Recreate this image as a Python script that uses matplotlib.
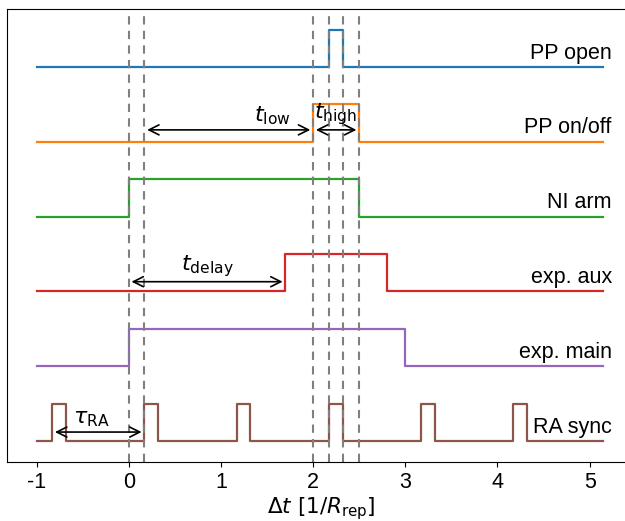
import numpy as np
import matplotlib
matplotlib.use("Agg")
import matplotlib.pyplot as plt

plt.rcParams['font.family'] = ['Liberation Sans', 'DejaVu Sans']
plt.rcParams['mathtext.fontset'] = 'dejavusans'
plt.rcParams['axes.unicode_minus'] = False

# channels, bottom to top
names = ['RA sync', 'exp. main', 'exp. aux', 'NI arm', 'PP on/off', 'PP open']
colors = ['#8c564b', '#9467bd', '#d62728', '#2ca02c', '#ff7f0e', '#1f77b4']
# (start, end) of the high states for each channel
pulses = [
    [(-0.83, -0.68), (0.17, 0.32), (1.17, 1.32), (2.17, 2.32), (3.17, 3.32), (4.17, 4.32)],
    [(0.0, 3.0)],
    [(1.7, 2.8)],
    [(0.0, 2.5)],
    [(2.0, 2.5)],
    [(2.17, 2.32)],
]
vlines = [0.0, 0.17, 2.0, 2.17, 2.32, 2.5]
t_start, t_end = -1.0, 5.15
high = 0.5


def square_wave(edges, t0, t1):
    xs, ys = [t0], [0.0]
    for a, b in edges:
        xs += [a, a, b, b]
        ys += [0.0, high, high, 0.0]
    xs.append(t1)
    ys.append(0.0)
    return np.array(xs), np.array(ys)


fig = plt.figure(figsize=(6.25, 5.21), dpi=100)
ax = fig.add_axes([0.0112, 0.1133, 1.006, 0.87])

for i, (name, col, edges) in enumerate(zip(names, colors, pulses)):
    xs, ys = square_wave(edges, t_start, t_end)
    ax.plot(xs, ys + i, color=col, lw=1.6)
    ax.text(5.24, i + 0.045, name, ha='right', va='bottom', fontsize=15.5)

for v in vlines:
    ax.axvline(v, color='gray', ls='--', lw=1.5, dashes=(4, 3))

arrow = dict(arrowstyle='<->', color='black', lw=1.2, mutation_scale=18)
ax.annotate('', xy=(0.17, 4.16), xytext=(2.0, 4.16), arrowprops=arrow)
ax.annotate('', xy=(2.0, 4.16), xytext=(2.5, 4.16), arrowprops=arrow)
ax.annotate('', xy=(0.0, 2.13), xytext=(1.7, 2.13), arrowprops=arrow)
ax.annotate('', xy=(-0.83, 0.12), xytext=(0.17, 0.12), arrowprops=arrow)
ax.text(1.56, 4.2, r'$t_\mathrm{low}$', ha='center', va='bottom', fontsize=16)
ax.text(2.25, 4.2, r'$t_\mathrm{high}$', ha='center', va='bottom', fontsize=16)
ax.text(0.85, 2.17, r'$t_\mathrm{delay}$', ha='center', va='bottom', fontsize=16)
ax.text(-0.4, 0.16, r'$\tau_\mathrm{RA}$', ha='center', va='bottom', fontsize=16)

ax.set_xlim(-1.32, 5.5)
ax.set_ylim(-0.28, 5.78)
ax.set_yticks([])
ax.set_xticks(range(-1, 6))
ax.tick_params(axis='x', labelsize=15.5)
ax.set_xlabel(r'$\Delta t\ [1/R_\mathrm{rep}]$', fontsize=15.5, labelpad=2)

fig.savefig('out.png', dpi=100)
